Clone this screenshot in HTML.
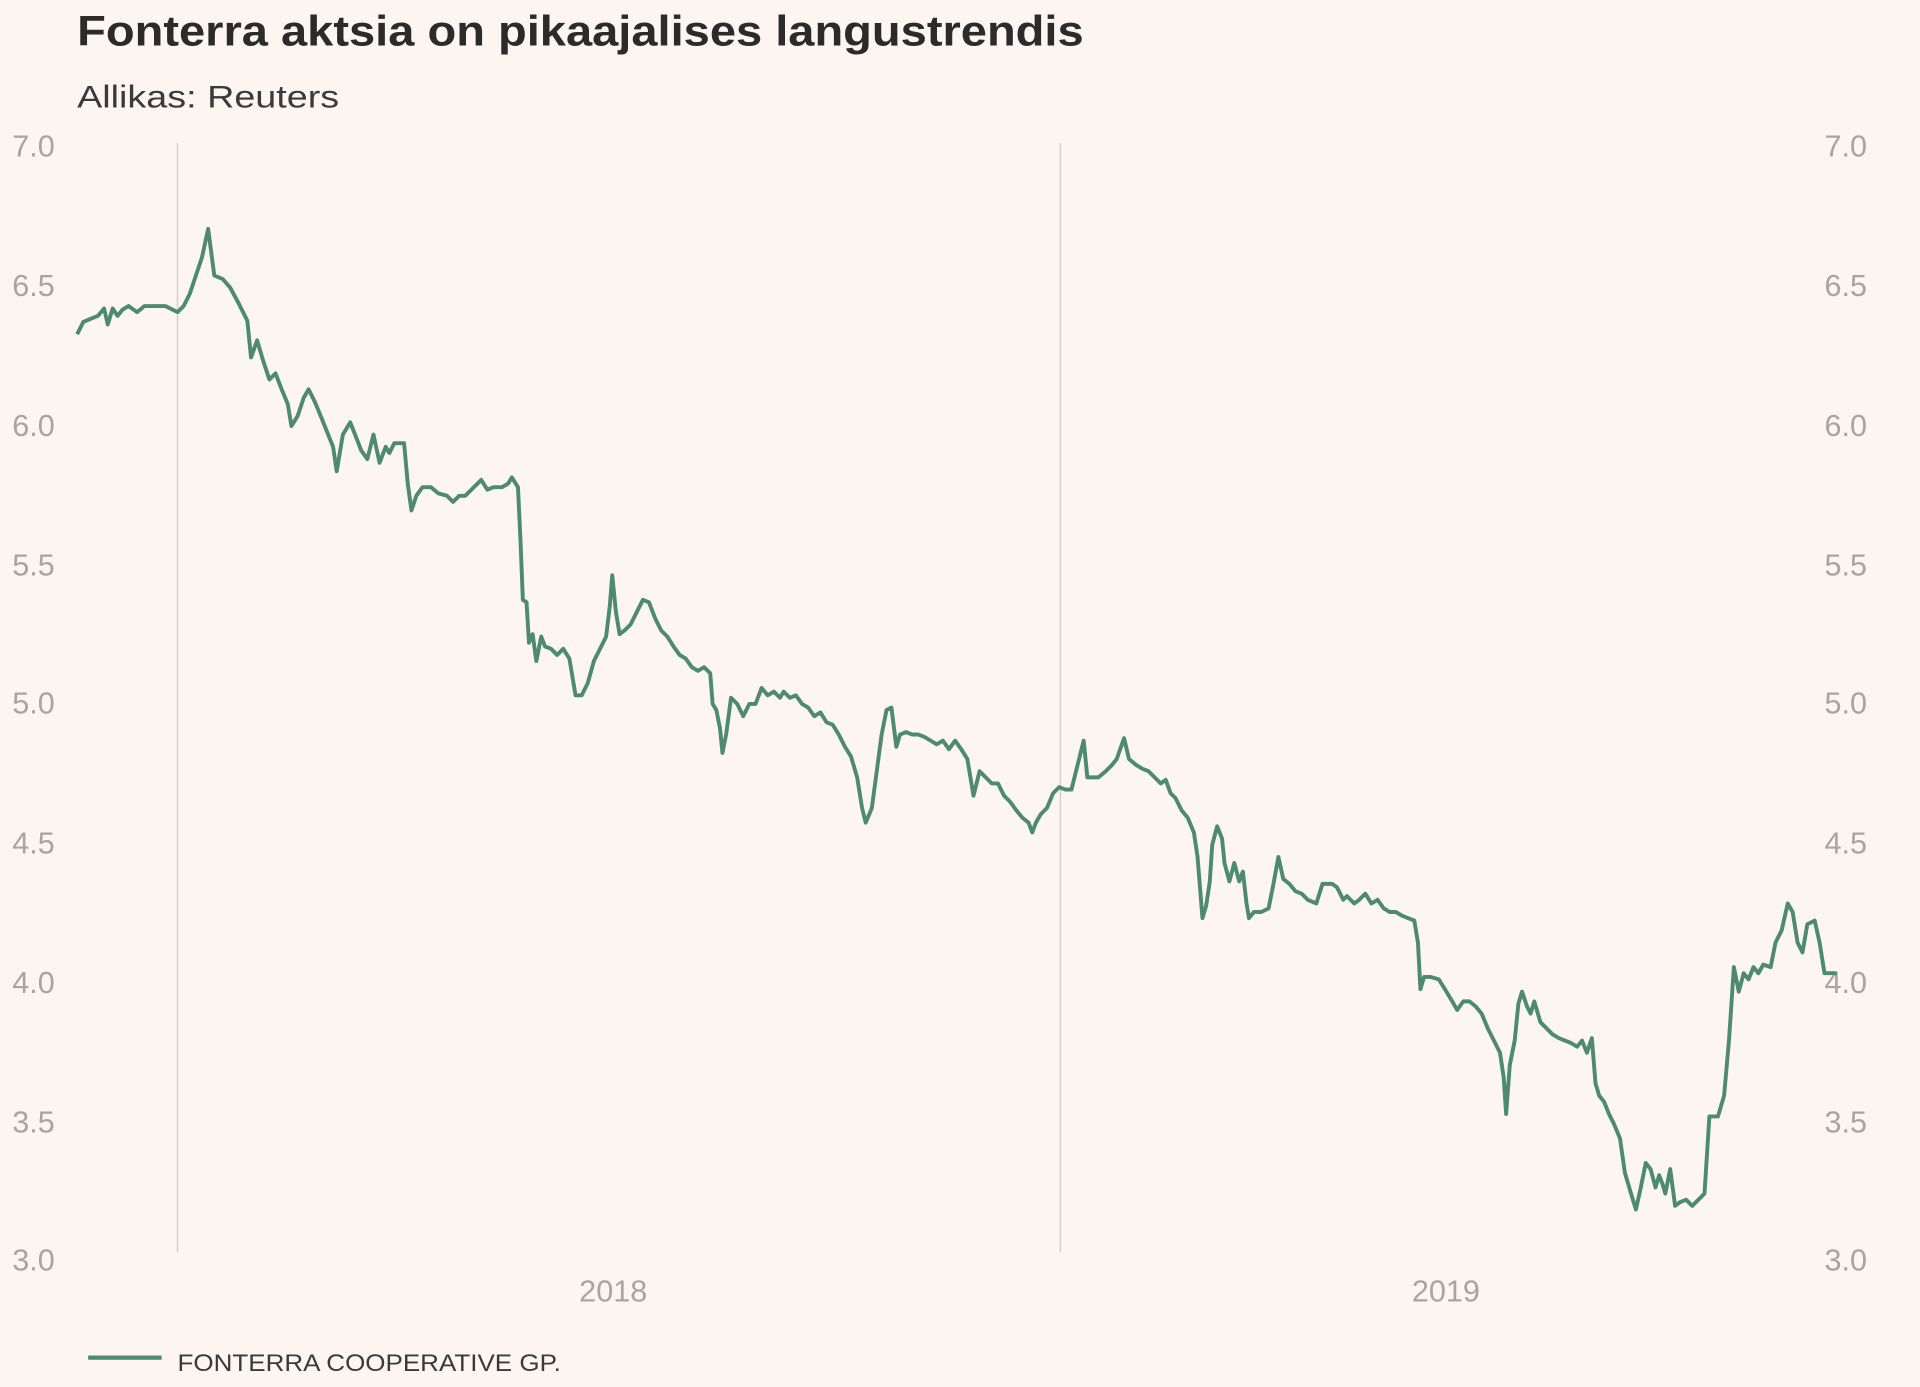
<!DOCTYPE html>
<html><head><meta charset="utf-8"><style>
html,body{margin:0;padding:0;background:#fcf5f2;}
svg{display:block;}
text{font-family:"Liberation Sans",sans-serif;}
</style></head><body>
<svg width="1920" height="1387" viewBox="0 0 1568 1133" preserveAspectRatio="none">
<rect x="0" y="0" width="1568" height="1133" fill="#fcf5f2"/>
<text x="63" y="37" font-size="35" font-weight="bold" fill="#2b2b2b" textLength="822" lengthAdjust="spacingAndGlyphs">Fonterra aktsia on pikaajalises langustrendis</text>
<text x="63" y="88" font-size="26" fill="#3a3a3a" textLength="214" lengthAdjust="spacingAndGlyphs">Allikas: Reuters</text>
<g font-size="25" fill="#a9a4a2">
<text x="10" y="128">7.0</text><text x="10" y="242">6.5</text><text x="10" y="356">6.0</text><text x="10" y="470">5.5</text><text x="10" y="583">5.0</text><text x="10" y="697">4.5</text><text x="10" y="811">4.0</text><text x="10" y="925">3.5</text><text x="10" y="1038">3.0</text>
<text x="1490" y="128">7.0</text><text x="1490" y="242">6.5</text><text x="1490" y="356">6.0</text><text x="1490" y="470">5.5</text><text x="1490" y="583">5.0</text><text x="1490" y="697">4.5</text><text x="1490" y="811">4.0</text><text x="1490" y="925">3.5</text><text x="1490" y="1038">3.0</text>
<text x="473" y="1063">2018</text><text x="1153" y="1063">2019</text>
</g>
<line x1="145" y1="117" x2="145" y2="1023" stroke="#d5cfcc" stroke-width="1.2"/>
<line x1="866" y1="117" x2="866" y2="1023" stroke="#d5cfcc" stroke-width="1.2"/>
<polyline fill="none" stroke="#4e8a72" stroke-width="3.2" stroke-linejoin="round" points="63,273 68,263 75,260 80,258 85,252 88,265 92,252 96,258 100,253 105,250 112,255 118,250 125,250 135,250 145,255 150,250 155,240 160,225 165,210 170,187 175,225 182,228 188,235 195,248 202,262 205,292 210,278 215,295 220,310 225,305 230,318 235,330 238,348 243,340 248,325 252,318 257,328 262,340 268,355 272,365 275,385 280,355 286,345 290,355 295,368 300,375 305,355 310,378 315,365 318,370 322,362 330,362 333,395 336,417 340,405 345,398 352,398 358,403 365,405 370,410 375,405 380,405 385,400 390,395 393,392 398,400 403,398 410,398 415,395 418,390 423,398 425,440 427,490 430,492 432,525 435,518 438,540 442,520 445,528 450,530 455,535 460,530 465,538 470,568 475,568 480,558 485,540 490,530 495,520 498,495 500,470 503,500 506,518 510,515 515,510 520,500 525,490 530,492 535,505 540,515 545,520 550,528 555,535 560,538 565,545 570,548 575,545 580,550 582,575 585,580 588,595 590,615 593,600 597,570 602,575 607,585 612,575 617,575 622,562 627,568 632,565 637,570 640,565 645,570 650,568 655,575 660,578 665,585 670,582 675,590 680,592 685,600 690,610 695,618 700,635 704,660 707,672 712,660 716,630 720,600 724,580 728,578 732,610 735,600 740,598 745,600 750,600 755,602 760,605 765,608 770,605 775,612 780,605 785,612 790,620 795,650 800,630 805,635 810,640 815,640 820,650 825,655 830,662 835,668 840,672 843,680 846,672 850,665 855,660 860,648 865,643 870,645 875,645 880,625 885,605 888,635 892,635 897,635 903,630 908,625 912,620 918,603 922,620 928,625 933,628 938,630 943,635 948,640 952,637 956,648 960,652 965,662 970,668 975,680 978,700 982,750 985,740 988,720 990,690 994,675 998,685 1000,705 1004,720 1008,705 1012,720 1015,712 1018,738 1020,750 1024,745 1030,745 1036,742 1040,722 1044,700 1048,718 1053,722 1058,728 1063,730 1068,735 1075,738 1080,722 1088,722 1092,725 1097,735 1100,732 1106,738 1110,735 1115,730 1120,738 1125,735 1130,742 1135,745 1140,745 1145,748 1150,750 1155,752 1158,770 1160,808 1163,798 1168,798 1175,800 1180,808 1186,818 1190,825 1195,818 1200,818 1205,822 1210,828 1215,840 1220,850 1225,860 1228,880 1230,910 1233,870 1237,850 1240,820 1243,810 1247,822 1250,828 1253,818 1258,835 1263,840 1268,845 1273,848 1278,850 1283,852 1288,855 1292,850 1296,860 1300,848 1303,885 1306,895 1310,900 1314,910 1318,918 1323,930 1327,958 1332,975 1336,988 1340,970 1344,950 1348,955 1352,970 1355,960 1358,968 1360,975 1364,955 1368,985 1372,982 1377,980 1382,985 1387,980 1392,975 1396,912 1403,912 1408,895 1412,850 1416,790 1420,810 1424,795 1428,800 1432,790 1436,795 1440,788 1446,790 1450,770 1455,760 1460,738 1464,745 1468,770 1472,778 1476,755 1482,752 1486,770 1490,795 1495,795 1500,795"/>
<line x1="72" y1="1109" x2="132" y2="1109" stroke="#4e8a72" stroke-width="3.5"/>
<text x="145" y="1120" font-size="20" fill="#3a3a3a" textLength="313" lengthAdjust="spacingAndGlyphs">FONTERRA COOPERATIVE GP.</text>
</svg>
</body></html>
